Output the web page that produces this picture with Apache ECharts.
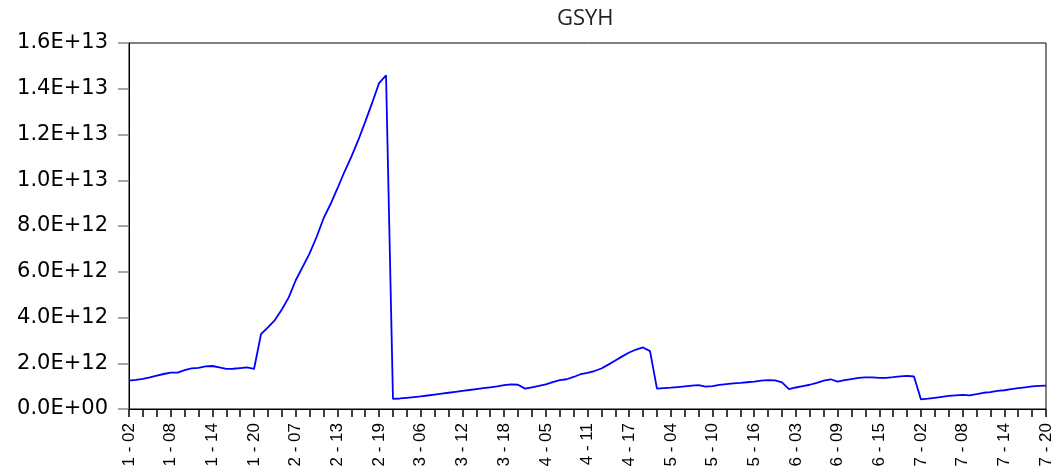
<!DOCTYPE html>
<html>
<head>
<meta charset="utf-8">
<title>GSYH</title>
<script src="https://cdn.jsdelivr.net/npm/echarts@6/dist/echarts.min.js"></script>
<style>
	html, body { margin: 0; padding: 0; background: #fff; }
	#chart { width: 1057px; height: 474px; }
</style>
</head>
<body>
<div id="chart"></div>
<script>
	// panel units and periods (02..20) -> category labels "1 - 02" ...
	var units = [1, 2, 3, 4, 5, 6, 7];
	var periods = ['02', '03', '04', '05', '06', '07', '08', '09', '10', '11',
		'12', '13', '14', '15', '16', '17', '18', '19', '20'];

	// GSYH values, in units of 1E+12, one array per unit
	var gsyh1 = [1.24, 1.27, 1.32, 1.38, 1.46, 1.53, 1.59, 1.59, 1.70, 1.78, 1.80, 1.86, 1.88, 1.82, 1.75, 1.76, 1.79, 1.82, 1.75];
	var gsyh2 = [3.27, 3.57, 3.89, 4.35, 4.88, 5.63, 6.21, 6.80, 7.52, 8.33, 8.95, 9.64, 10.36, 11.02, 11.75, 12.55, 13.38, 14.25, 14.59];
	var gsyh3 = [0.44, 0.46, 0.49, 0.52, 0.55, 0.59, 0.63, 0.67, 0.71, 0.75, 0.79, 0.83, 0.87, 0.91, 0.95, 0.99, 1.04, 1.08, 1.06];
	var gsyh4 = [0.89, 0.95, 1.01, 1.08, 1.17, 1.26, 1.30, 1.40, 1.52, 1.58, 1.66, 1.77, 1.94, 2.12, 2.30, 2.47, 2.60, 2.69, 2.53];
	var gsyh5 = [0.89, 0.91, 0.93, 0.96, 0.99, 1.02, 1.04, 0.98, 1.00, 1.05, 1.09, 1.12, 1.14, 1.17, 1.20, 1.24, 1.26, 1.25, 1.16];
	var gsyh6 = [0.87, 0.94, 1.00, 1.06, 1.14, 1.24, 1.30, 1.20, 1.26, 1.31, 1.36, 1.38, 1.38, 1.36, 1.36, 1.39, 1.43, 1.45, 1.42];
	var gsyh7 = [0.42, 0.45, 0.49, 0.53, 0.57, 0.60, 0.62, 0.60, 0.65, 0.71, 0.74, 0.79, 0.82, 0.87, 0.91, 0.95, 0.99, 1.01, 1.02];

	var scale = 1e12;

	var categories = [];
	units.forEach(function (u) {
		periods.forEach(function (p) {
			categories.push(u + ' - ' + p);
		});
	});
	var values = [].concat(gsyh1, gsyh2, gsyh3, gsyh4, gsyh5, gsyh6, gsyh7).map(function (v) {
		return v * scale;
	});

	// 1.6E+13 style labels
	function sciLabel(v) {
		if (v === 0) return '0.0E+00';
		var e = Math.floor(Math.log10(v) + 1e-9);
		var m = v / Math.pow(10, e);
		return m.toFixed(1) + 'E+' + (e < 10 ? '0' + e : e);
	}

	var chart = echarts.init(document.getElementById('chart'));
	var option = {
		animation: false,
		title: {
			text: 'GSYH',
			left: 557,
			top: 8,
			padding: 0,
			textStyle: {
				fontFamily: 'Open Sans',
				fontSize: 22,
				fontWeight: 'normal',
				color: '#222'
			}
		},
		grid: {
			left: 129,
			right: 11,
			top: 43,
			bottom: 65,
			show: true,
			borderColor: '#000',
			borderWidth: 1
		},
		xAxis: {
			type: 'category',
			data: categories,
			boundaryGap: false,
			axisLine: {
				lineStyle: { color: '#000', width: 1 }
			},
			axisTick: {
				interval: 1,
				length: 8,
				lineStyle: { color: '#000', width: 1.5 }
			},
			axisLabel: {
				interval: 5,
				rotate: 90,
				margin: 14,
				fontFamily: 'Liberation Sans',
				fontSize: 17,
				color: '#000'
			},
			splitLine: { show: false }
		},
		yAxis: {
			type: 'value',
			min: 0,
			max: 1.6e13,
			interval: 2e12,
			axisLine: {
				show: true,
				lineStyle: { color: '#000', width: 1 }
			},
			axisTick: {
				show: true,
				length: 11,
				lineStyle: { color: '#888', width: 1.5 }
			},
			axisLabel: {
				margin: 21,
				fontFamily: 'DejaVu Sans',
				fontSize: 21,
				color: '#000',
				padding: [0, 0, 8, 0],
				formatter: sciLabel
			},
			splitLine: { show: false }
		},
		series: [{
			name: 'GSYH',
			type: 'line',
			data: values,
			showSymbol: false,
			lineStyle: { color: '#0000ff', width: 1.8 },
			itemStyle: { color: '#0000ff' }
		}]
	};
	chart.setOption(option);
</script>
</body>
</html>
